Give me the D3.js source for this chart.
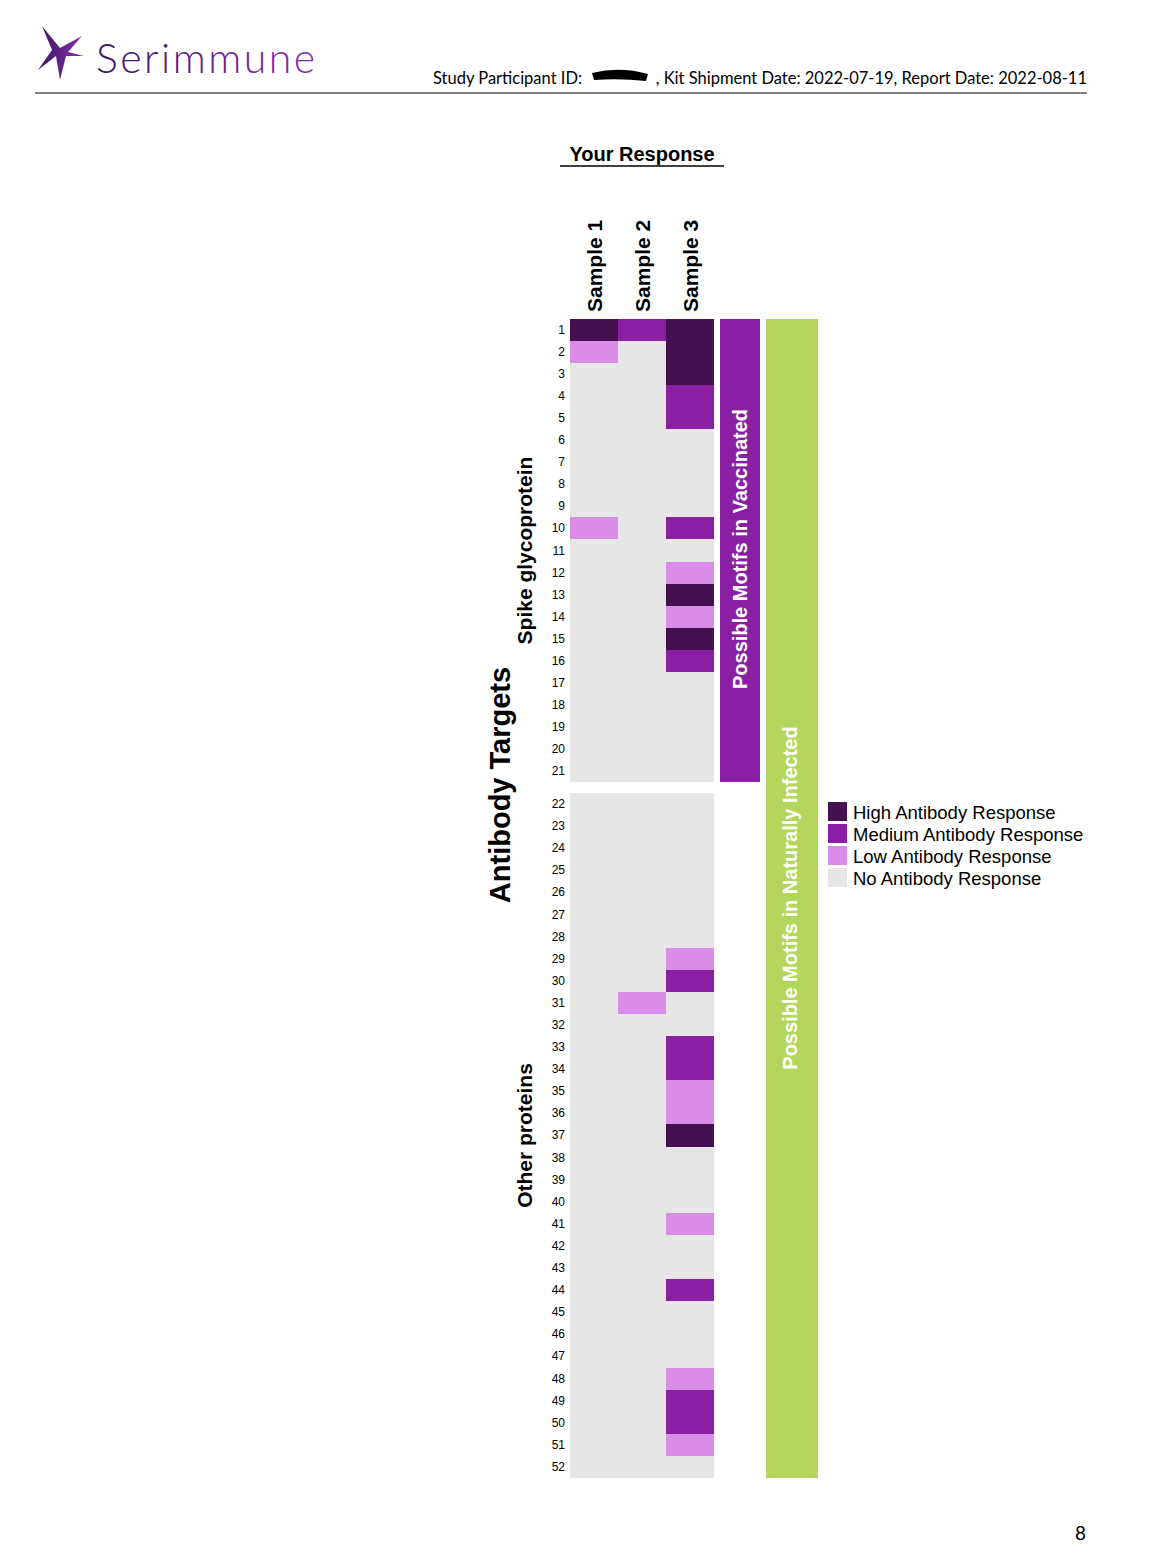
<!DOCTYPE html>
<html><head><meta charset="utf-8">
<script src="https://cdn.jsdelivr.net/npm/d3@7"></script>
<style>body{margin:0;background:#fff}</style></head>
<body><svg id="c" width="1174" height="1561"></svg>
<script>
const samples = ["Sample 1","Sample 2","Sample 3"];
const rows = d3.range(1,53);
const levels = ["High Antibody Response","Medium Antibody Response","Low Antibody Response","No Antibody Response"];
const levelColors = ["#45104f","#8b1fa3","#d98ce8","#e6e6e6"];
const sample1 = {H:[1], M:[], L:[2,10]};
const sample2 = {H:[], M:[1], L:[31]};
const sample3 = {H:[1,2,3,13,15,37], M:[4,5,10,16,30,33,34,44,49,50], L:[12,14,29,35,36,41,48,51]};
const groups = [{name:"Spike glycoprotein", from:1, to:21},{name:"Other proteins", from:22, to:52}];

const svg = d3.select("#c");
const lg = svg.append("defs").append("linearGradient").attr("id","lg");
lg.append("stop").attr("offset","0").attr("stop-color","#3a1760");
lg.append("stop").attr("offset","1").attr("stop-color","#8a2fb0");
const logo = svg.append("g").attr("transform","translate(38,26)");
logo.append("path").attr("d","M4,0 L22,22 L44,10 L30,26 L46,30 L28,30 L22,54 L18,30 L0,44 L14,24 Z").attr("fill","url(#lg)");
svg.append("text").attr("x",96).attr("y",73).attr("font-family","Lato, sans-serif").attr("font-weight",300).attr("font-size",41).attr("fill","url(#lg)").attr("letter-spacing",2.5).text("Serimmune");
svg.append("line").attr("x1",35).attr("x2",1087).attr("y1",93).attr("y2",93).attr("stroke","#000").attr("stroke-width",1);
svg.append("text").attr("x",433).attr("y",84).attr("font-family","Lato, sans-serif").attr("font-size",16.5).text("Study Participant ID:");
svg.append("text").attr("x",1087).attr("y",84).attr("text-anchor","end").attr("font-family","Lato, sans-serif").attr("font-size",16.5)
  .text(", Kit Shipment Date: 2022-07-19, Report Date: 2022-08-11");
svg.append("path").attr("d","M592,73 Q620,66 648,74 L646,81 Q620,78 594,80 Z").attr("fill","#000");
svg.append("text").attr("x",642).attr("y",161).attr("text-anchor","middle").attr("font-family","Liberation Sans, Arial").attr("font-weight","bold").attr("font-size",20).text("Your Response");
svg.append("line").attr("x1",560).attr("x2",724).attr("y1",166).attr("y2",166).attr("stroke","#000").attr("stroke-width",1.5);

const x = d3.scaleBand().domain(samples).range([570,714]);
const yTop = d3.scaleBand().domain(d3.range(1,22)).range([319,782]);
const yBot = d3.scaleBand().domain(d3.range(22,53)).range([793,1478]);
const y = r => r<=21 ? yTop(r) : yBot(r);
const h = yTop.bandwidth();
const data=[];
[sample1,sample2,sample3].forEach((s,i)=>rows.forEach(r=>{
  let lv=3; if(s.H.includes(r))lv=0; else if(s.M.includes(r))lv=1; else if(s.L.includes(r))lv=2;
  data.push({s:samples[i],r,lv});
}));
svg.selectAll("rect.cell").data(data).join("rect").attr("x",d=>x(d.s)).attr("y",d=>y(d.r))
  .attr("width",x.bandwidth()).attr("height",d=>d.r<=21?h:yBot.bandwidth()).attr("fill",d=>levelColors[d.lv]).attr("shape-rendering","crispEdges");
svg.selectAll("text.rn").data(rows).join("text").attr("x",565).attr("y",d=>y(d)+h/2+4).attr("text-anchor","end")
  .attr("font-family","Liberation Sans, Arial").attr("font-size",12).text(d=>d);
samples.forEach(s=>svg.append("text").attr("transform",`translate(${x(s)+x.bandwidth()/2+8},312) rotate(-90)`)
  .attr("font-family","Liberation Sans, Arial").attr("font-weight","bold").attr("font-size",21).text(s));
svg.append("rect").attr("x",720).attr("y",319).attr("width",40).attr("height",463).attr("fill","#8b1fa3");
svg.append("text").attr("transform","translate(747,549) rotate(-90)").attr("text-anchor","middle").attr("fill","#fff")
  .attr("font-family","Liberation Sans, Arial").attr("font-weight","bold").attr("font-size",20).text("Possible Motifs in Vaccinated");
svg.append("rect").attr("x",766).attr("y",319).attr("width",52).attr("height",1159).attr("fill","#b5d65c");
svg.append("text").attr("transform","translate(797,898) rotate(-90)").attr("text-anchor","middle").attr("fill","#fff")
  .attr("font-family","Liberation Sans, Arial").attr("font-weight","bold").attr("font-size",20).text("Possible Motifs in Naturally Infected");
svg.append("text").attr("transform","translate(510,785) rotate(-90)").attr("text-anchor","middle")
  .attr("font-family","Liberation Sans, Arial").attr("font-weight","bold").attr("font-size",29).text("Antibody Targets");
groups.forEach(g=>{
  const cy=(y(g.from)+y(g.to)+h)/2;
  svg.append("text").attr("transform",`translate(532,${cy}) rotate(-90)`).attr("text-anchor","middle")
   .attr("font-family","Liberation Sans, Arial").attr("font-weight","bold").attr("font-size",21).text(g.name);
});
levels.forEach((l,i)=>{
  svg.append("rect").attr("x",828).attr("y",802+i*22).attr("width",19).attr("height",19).attr("fill",levelColors[i]);
  svg.append("text").attr("x",853).attr("y",819+i*22).attr("font-family","Liberation Sans, Arial").attr("font-size",18.5).text(l);
});
svg.append("text").attr("x",1086).attr("y",1540).attr("text-anchor","end").attr("font-family","Lato, sans-serif").attr("font-size",19).text("8");
</script></body></html>
